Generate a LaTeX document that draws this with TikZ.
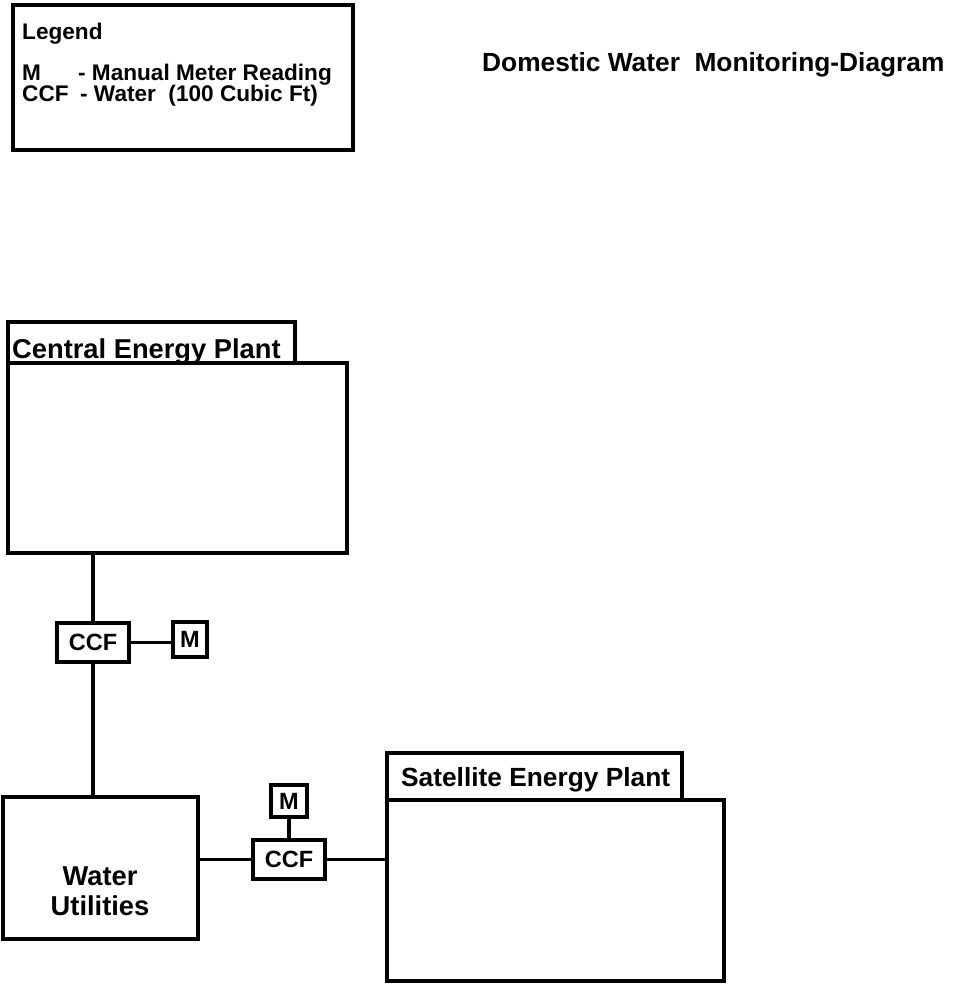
\documentclass[tikz,border=0pt]{standalone}
\usepackage{fontspec}
\setmainfont{Liberation Sans}
\begin{document}
\begin{tikzpicture}[x=1pt, y=-1pt,
        box/.style={draw, line width=3.2pt, fill=white, inner sep=0pt, outer sep=0pt},
        meter/.style={box, font=\fontsize{23.5}{23.5}\selectfont\bfseries},
        label/.style={font=\fontsize{27.3}{30}\selectfont\bfseries, inner sep=0pt, anchor=base west},
        smalllabel/.style={label, font=\fontsize{26.3}{30}\selectfont\bfseries},
        key/.style={font=\fontsize{22.6}{22.6}\selectfont\bfseries, inner sep=0pt, anchor=base west},
        pipe/.style={line width=3.2pt}]
            \useasboundingbox (0,0) rectangle (959,988);

            % legend and title
            \node[box, minimum width=340pt, minimum height=145pt] (legend) at (183,77.5) {};
            \node[key] (legendhead) at (22,39.5) {Legend};
            \node[key] (keyM) at (22,80) {M};
            \node[key] (keyMtext) at (78,80) {- Manual Meter Reading};
            \node[key] (keyCCF) at (22,101) {CCF};
            \node[key] (keyCCFtext) at (80,101) {- Water\ \ (100 Cubic Ft)};
            \node[smalllabel] (title) at (482,71.5) {Domestic Water\ \ Monitoring-Diagram};

            % plants
            \node[box, minimum width=287pt, minimum height=41pt] (ceptab) at (151.5,342.5) {};
            \node[box, minimum width=339pt, minimum height=190pt] (cep) at (177.5,458) {};
            \node[label] (ceplabel) at (12,358) {Central Energy Plant};

            \node[box, minimum width=295pt, minimum height=47pt] (sattab) at (534.5,776.5) {};
            \node[box, minimum width=337pt, minimum height=181pt] (sat) at (555.5,890.5) {};
            \node[smalllabel] (satlabel) at (401,786) {Satellite Energy Plant};

            \node[box, minimum width=195pt, minimum height=142pt] (wu) at (100.5,868) {};
            \node[label, anchor=base] (wulabelA) at (100,885) {Water};
            \node[label, anchor=base] (wulabelB) at (100,915) {Utilities};

            % meters
            \node[meter, minimum width=72pt, minimum height=39pt] (ccfA) at (93,642.5) {CCF};
            \node[meter, minimum width=34pt, minimum height=35pt] (mA) at (190,639.5) {M};
            \node[meter, minimum width=72pt, minimum height=39pt] (ccfB) at (289,859.5) {CCF};
            \node[meter, minimum width=36pt, minimum height=32pt] (mB) at (289,801) {M};

            % pipes
            \draw[pipe] (ccfA.north) -- (ccfA.north |- cep.south);
            \draw[pipe] (ccfA.south) -- (ccfA.south |- wu.north);
            \draw[pipe] (ccfA.east) -- (ccfA.east -| mA.west);
            \draw[pipe] (ccfB.west) -- (ccfB.west -| wu.east);
            \draw[pipe] (ccfB.east) -- (ccfB.east -| sat.west);
            \draw[pipe] (mB.south) -- (ccfB.north);
        \end{tikzpicture}
\end{document}
